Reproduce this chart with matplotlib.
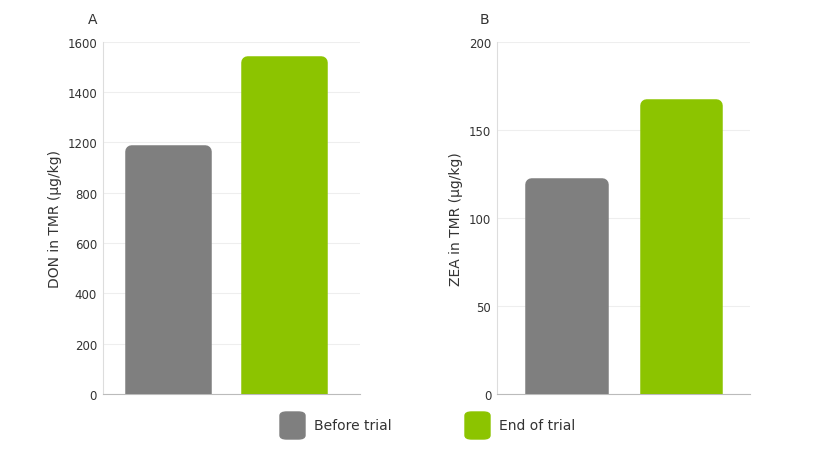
import matplotlib
matplotlib.use("Agg")
import matplotlib.pyplot as plt
from matplotlib.patches import FancyBboxPatch

GRAY = "#7f7f7f"
GREEN = "#8cc400"

categories = ["Before trial", "End of trial"]
# panel A: the axis is linear 0..1400, the original tick labels skip "1000"
don_values = [966, 1320]
don_ticks = [0, 200, 400, 600, 800, 1000, 1200, 1400]
don_labels = ["0", "200", "400", "600", "800", "1200", "1400", "1600"]
zea_values = [119, 164]
zea_ticks = [0, 50, 100, 150, 200]

fig = plt.figure(figsize=(8.28, 4.6), dpi=100)
axA = fig.add_axes([0.124, 0.141, 0.311, 0.766])
axB = fig.add_axes([0.600, 0.141, 0.306, 0.766])


def draw(ax, vals, ylim, ticks, labels, ylabel, centers, width):
    ax.set_xlim(0, 1)
    ax.set_ylim(*ylim)
    ax.bar(centers, vals, width=width, color=[GRAY, GREEN], edgecolor=[GRAY, GREEN],
           linewidth=9, joinstyle="round", zorder=3)
    ax.set_yticks(ticks)
    ax.set_yticklabels(labels, fontsize=8.5, color="#333333")
    ax.set_xticks([])
    ax.yaxis.grid(True, color="#eeeeee", linewidth=0.8)
    for s in ["top", "right"]:
        ax.spines[s].set_visible(False)
    ax.spines["left"].set_color("#dddddd")
    ax.spines["bottom"].set_color("#bbbbbb")
    ax.tick_params(axis="y", length=0, pad=4)
    ax.set_ylabel(ylabel, fontsize=10, color="#333333")


draw(axA, don_values, (0, 1400), don_ticks, don_labels, "DON in TMR (µg/kg)",
     [0.253, 0.704], 0.285)
draw(axB, zea_values, (0, 200), zea_ticks, [str(t) for t in zea_ticks],
     "ZEA in TMR (µg/kg)", [0.275, 0.727], 0.28)

fig.text(88 / 828, 1 - 20 / 460, "A", fontsize=10, va="center", color="#333333")
fig.text(480 / 828, 1 - 20 / 460, "B", fontsize=10, va="center", color="#333333")

for x0, col, lab in [(280, GRAY, categories[0]), (465, GREEN, categories[1])]:
    fig.patches.append(FancyBboxPatch((x0 / 828, 1 - 440 / 460), 25 / 828, 27 / 460,
                                      boxstyle="round,pad=0,rounding_size=0.008",
                                      transform=fig.transFigure, color=col))
    fig.text((x0 + 34) / 828, 1 - 426 / 460, lab, fontsize=10, va="center", color="#333333")

fig.savefig("out.png", dpi=100)
